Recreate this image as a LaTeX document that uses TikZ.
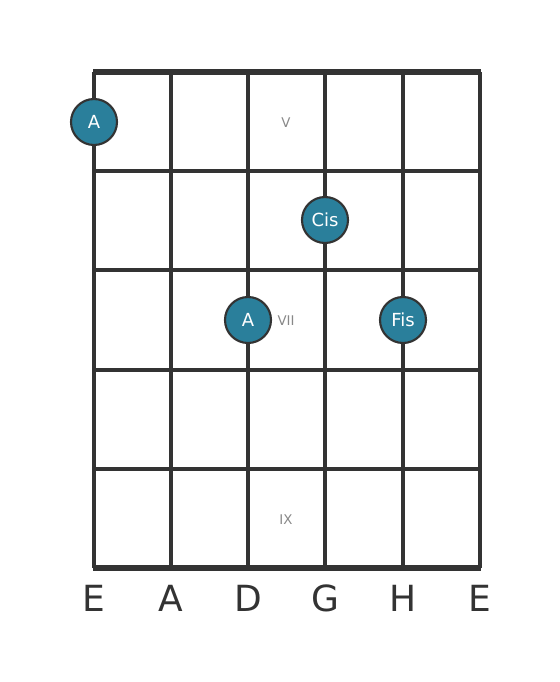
\documentclass[tikz,border=0pt]{standalone}
\usepackage{fontspec}
\setmainfont{DejaVu Sans}
\usepackage{tikz}
\usetikzlibrary{positioning}
\definecolor{fretline}{HTML}{333333}
\definecolor{dotfill}{HTML}{2A7F9B}
\definecolor{fretnum}{HTML}{888888}

\begin{document}
\begin{tikzpicture}[x = .75pt, y = -.75pt,
  fret/.style = {line width = 3.5pt, color = fretline},
  string/.style = {line width = 2.5pt, color = fretline},
  notedot/.style = {circle, draw = fretline, line width = 1.6pt, fill = dotfill, minimum size = 34.5pt, inner sep = 0pt, text = white, font = \fontsize{13.5}{15}\selectfont},
  fretlabel/.style = {text = fretnum, font = \fontsize{10}{11}\selectfont},
  stringname/.style = {text = fretline, font = \fontsize{27}{30}\selectfont}]
\useasboundingbox (0,0) rectangle (560,682);
% strings
\foreach \x in {94,171,248,325,403,480}
  \draw[string] (\x,72) -- (\x,568);
% frets
\foreach \y in {171,270,370,469}
  \draw[fret] (94,\y) -- (480,\y);
\draw[fret, line width = 4pt] (93,72) -- (481,72);
\draw[fret, line width = 4pt] (93,568) -- (481,568);
% fret numbers
\node[fretlabel] (fV) at (286,123) {V};
\node[fretlabel] (fVII) at (286,321) {VII};
\node[fretlabel] (fIX) at (286,520) {IX};
% notes
\node[notedot] (n1) at (94,122) {A};
\node[notedot] (n2) at (325,220) {Cis};
\node[notedot] (n3) at (248,320) {A};
\node[notedot] (n4) at (403,320) {Fis};
% string names
\node[stringname] (s1) at (94,598) {E};
\node[stringname] (s2) at (171,598) {A};
\node[stringname] (s3) at (248,598) {D};
\node[stringname] (s4) at (325,598) {G};
\node[stringname] (s5) at (403,598) {H};
\node[stringname] (s6) at (480,598) {E};
\end{tikzpicture}
\end{document}
